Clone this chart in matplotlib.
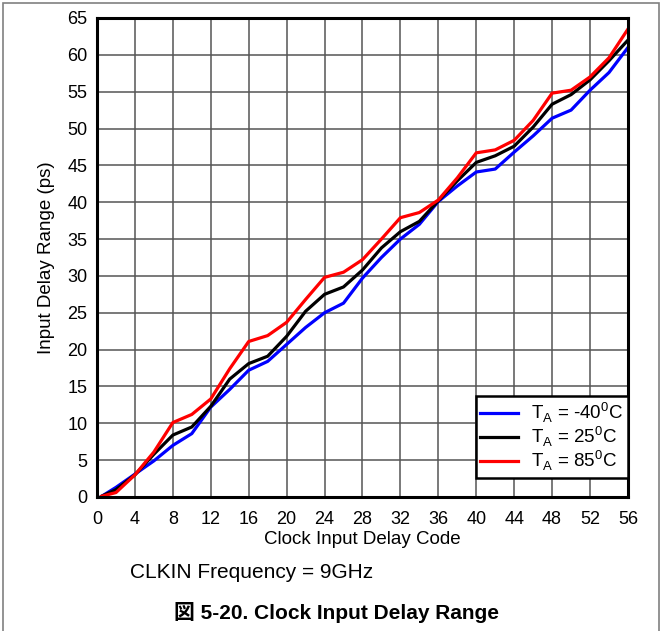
import numpy as np
import matplotlib
matplotlib.use('Agg')
import matplotlib.pyplot as plt
from matplotlib.patches import Rectangle

plt.rcParams['font.family'] = ['Liberation Sans', 'Noto Sans CJK JP', 'DejaVu Sans']

code = [0.5, 2, 4, 6, 8, 10, 12, 14, 16, 18, 20, 22, 24, 26, 28,
        30, 32, 34, 36, 38, 40, 42, 44, 46, 48, 50, 52, 54, 56]
delay_m40 = [0.1, 1.3, 3.1, 4.9, 7.0, 8.6, 12.2, 14.6, 17.2, 18.4, 20.7, 23.0, 25.0, 26.3, 29.7,
             32.5, 35.0, 37.0, 40.1, 42.2, 44.1, 44.5, 46.8, 49.0, 51.4, 52.5, 55.2, 57.6, 61.0]
delay_25 = [0.1, 1.0, 3.0, 5.8, 8.4, 9.5, 12.3, 16.0, 18.1, 19.1, 21.8, 25.2, 27.5, 28.5, 30.8,
            33.8, 36.0, 37.4, 40.2, 42.9, 45.4, 46.3, 47.6, 50.2, 53.3, 54.6, 56.6, 59.2, 62.0]
delay_85 = [0.1, 0.6, 3.0, 6.1, 10.1, 11.2, 13.3, 17.4, 21.1, 21.9, 23.7, 26.8, 29.8, 30.5, 32.2,
            35.0, 37.9, 38.6, 40.3, 43.3, 46.7, 47.1, 48.4, 51.1, 54.8, 55.2, 57.0, 59.6, 63.5]
series_labels = [r'T$_\mathregular{A}$ = -40$^\mathregular{0}$C',
                 r'T$_\mathregular{A}$ = 25$^\mathregular{0}$C',
                 r'T$_\mathregular{A}$ = 85$^\mathregular{0}$C']
colors = ['#0000ff', '#000000', '#ff0000']

fig = plt.figure(figsize=(6.62, 6.31), dpi=100)
ax = fig.add_axes([0.1465, 0.2124, 0.8021, 0.7591])

for ys, lab, c in zip([delay_m40, delay_25, delay_85], series_labels, colors):
    ax.plot(code, ys, color=c, lw=2.3, label=lab, solid_joinstyle='round')

ax.set_xlim(0, 56)
ax.set_ylim(0, 65)
ax.set_xticks(np.arange(0, 57, 4))
ax.set_yticks(np.arange(0, 66, 5))
ax.tick_params(axis='x', length=0, labelsize=13, pad=10)
ax.tick_params(axis='y', length=0, labelsize=13, pad=7)
ax.grid(True, color='#555555', lw=1.1)
ax.set_axisbelow(True)
for s in ax.spines.values():
    s.set_linewidth(2.2)
    s.set_color('black')

ax.set_xlabel('Clock Input Delay Code', fontsize=13.5, labelpad=2)
ax.set_ylabel('Input Delay Range (ps)', fontsize=13.5, labelpad=9)

leg = ax.legend(loc='lower right', fontsize=13.5, handlelength=2.0, handletextpad=0.7,
                labelspacing=0.0, borderpad=0.25, borderaxespad=0, fancybox=False,
                framealpha=1, bbox_to_anchor=(1.0, 0.04))
leg.get_frame().set_edgecolor('black')
leg.get_frame().set_linewidth(1.8)

fig.text(0.196, 0.092, 'CLKIN Frequency = 9GHz', fontsize=15, va='center')
fig.text(0.508, 0.03, '図 5-20. Clock Input Delay Range', fontsize=15, fontweight='bold',
         ha='center', va='center')

fig.patches.append(Rectangle((0.004, -0.01), 0.992, 1.006, transform=fig.transFigure,
                             fill=False, edgecolor='#808080', lw=1.2))

fig.savefig('out.png', dpi=100)
